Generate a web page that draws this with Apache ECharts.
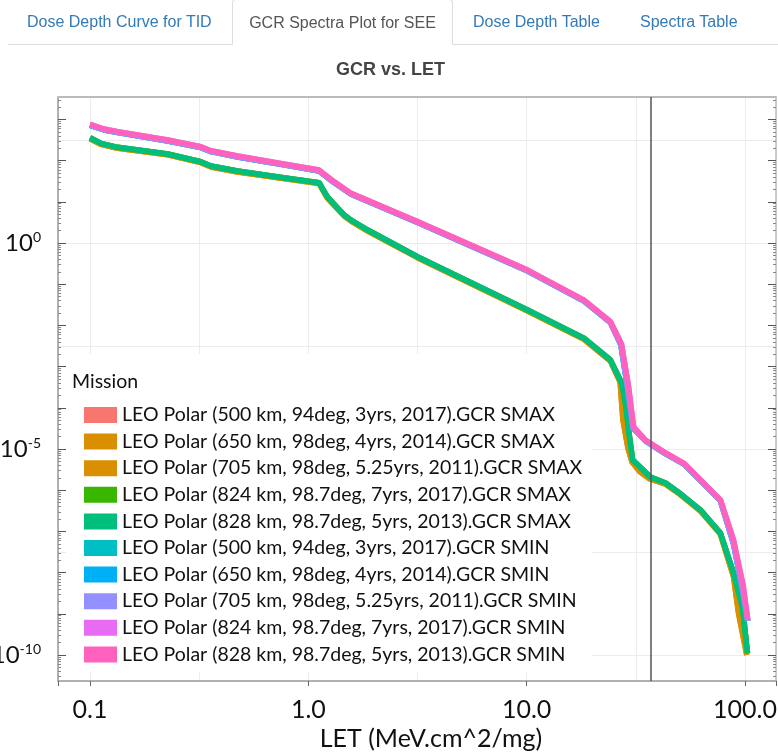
<!DOCTYPE html>
<html>
<head>
<meta charset="utf-8">
<script src="https://cdn.jsdelivr.net/npm/echarts@6/dist/echarts.min.js"></script>
<style>
html,body{margin:0;padding:0;background:#fff;}
#wrap{position:relative;width:778px;height:752px;overflow:hidden;}
#chart{position:absolute;left:0;top:0;width:778px;height:752px;}
.tabline{position:absolute;left:8px;top:44px;width:770px;height:0;border-top:1px solid #ddd;}
.tab{position:absolute;top:0;height:44px;line-height:44px;font-family:"Liberation Sans",Arial,sans-serif;font-size:16px;color:#337ab7;white-space:nowrap;}
.tab.active{color:#555;background:#fff;border:1px solid #ddd;border-bottom:1px solid #fff;border-radius:4px 4px 0 0;text-align:center;box-sizing:border-box;height:46px;}
</style>
</head>
<body>
<div id="wrap">
  <div id="chart"></div>
  <div class="tabline"></div>
  <div class="tab" style="left:27px;">Dose Depth Curve for TID</div>
  <div class="tab active" style="left:232px;width:221px;top:-1px;line-height:46px;">GCR Spectra Plot for SEE</div>
  <div class="tab" style="left:473px;">Dose Depth Table</div>
  <div class="tab" style="left:640px;">Spectra Table</div>
</div>
<script>
// ---- data ----
const seriesNames = [
  'LEO Polar (500 km, 94deg, 3yrs, 2017).GCR SMAX',
  'LEO Polar (650 km, 98deg, 4yrs, 2014).GCR SMAX',
  'LEO Polar (705 km, 98deg, 5.25yrs, 2011).GCR SMAX',
  'LEO Polar (824 km, 98.7deg, 7yrs, 2017).GCR SMAX',
  'LEO Polar (828 km, 98.7deg, 5yrs, 2013).GCR SMAX',
  'LEO Polar (500 km, 94deg, 3yrs, 2017).GCR SMIN',
  'LEO Polar (650 km, 98deg, 4yrs, 2014).GCR SMIN',
  'LEO Polar (705 km, 98deg, 5.25yrs, 2011).GCR SMIN',
  'LEO Polar (824 km, 98.7deg, 7yrs, 2017).GCR SMIN',
  'LEO Polar (828 km, 98.7deg, 5yrs, 2013).GCR SMIN'
];

// Solar max, upper copy (500 / 824 / 828 km)
const letSmaxA = [0.1,0.112,0.134,0.227,0.322,0.358,0.474,0.77,1.12,1.22,1.36,1.46,1.57,1.87,3.16,10.1,18.3,24.2,27.3,28.4,29.3,30.6,36.9,43.3,50.7,62.6,77.2,88.6,97.4,102.7];
const gcrSmaxA = [359,263,210,145,94,74,56,38.5,29.1,13.3,7.1,4.8,3.6,2.07,0.465,0.0236,4.9e-3,1.45e-3,3.9e-4,1.2e-4,2.9e-5,5.4e-6,2.1e-6,1.5e-6,8.2e-7,3.3e-7,9.1e-8,9.8e-9,1.46e-9,1.1e-10];

// Solar max, lower copy (650 / 705 km)
const letSmaxB = [0.1,0.112,0.134,0.227,0.322,0.358,0.474,0.77,1.12,1.22,1.36,1.46,1.57,1.87,3.16,10.1,18.3,24.2,26.8,27.6,29.1,30.4,33.0,36.7,43.3,50.7,62.6,77.2,88.6,93.4,101.9];
const gcrSmaxB = [340,250,200,138,89,70,53,36.5,27.6,12.5,6.7,4.5,3.4,1.95,0.44,0.0223,4.6e-3,1.36e-3,4.2e-4,5.1e-5,1.06e-5,4.8e-6,2.8e-6,1.87e-6,1.4e-6,7.7e-7,3.1e-7,8.5e-8,8.0e-9,1.05e-9,1.0e-10];

// Solar min, upper copy (824 / 828 km)
const letSminA = [0.1,0.116,0.134,0.227,0.322,0.358,0.474,0.77,1.12,1.31,1.57,3.16,10.1,18.3,24.2,27.2,29.3,30.9,35.0,43.3,52.5,62.6,77.2,88.6,98.3,103];
const gcrSminA = [760,585,503,316,217,174,129,83,59,31,16,3.3,0.22,0.041,0.0123,3.5e-3,3.2e-4,3.4e-5,1.65e-5,8.0e-6,4.5e-6,1.77e-6,5.8e-7,6.2e-8,4.5e-9,7.1e-10];

// Solar min, lower copy (500 / 650 / 705 km)
const letSminB = [0.1,0.116,0.134,0.227,0.322,0.358,0.474,0.77,1.12,1.31,1.57,3.16,10.1,18.3,24.2,27.0,29.0,30.7,35.0,43.3,52.5,62.6,77.2,88.6,97.5,103];
const gcrSminB = [720,555,478,300,206,165,122,79,56,29.3,15.3,3.13,0.209,0.039,0.0117,3.4e-3,3.0e-4,3.2e-5,1.57e-5,7.6e-6,4.3e-6,1.68e-6,5.5e-7,5.0e-8,3.8e-9,6.7e-10];

const letThreshold = 37;
const xTickLabels = ['0.1','1.0','10.0','100.0'];
const yMajorTicks = [1e-10,1e-9,1e-8,1e-7,1e-6,1e-5,1e-4,1e-3,1e-2,1e-1,1,10,100,1000];
const yLabelTicks = [1e-10,1e-5,1];

// ---- styling ----
const colors = ['#F8766D','#D98F00','#D98F00','#39B600','#00BF7D','#00BFC4','#00B0F6','#9590FF','#E76BF3','#FF62BC'];
const curveSets = [
  [letSmaxA,gcrSmaxA],[letSmaxB,gcrSmaxB],[letSmaxB,gcrSmaxB],[letSmaxA,gcrSmaxA],[letSmaxA,gcrSmaxA],
  [letSminB,gcrSminB],[letSminB,gcrSminB],[letSminB,gcrSminB],[letSminA,gcrSminA],[letSminA,gcrSminA]
];
const FONT = 'Lato, "Open Sans", sans-serif';

const X_MIN = 0.07135, X_MAX = 138.7;
const Y_MIN = 2.34e-11, Y_MAX = 3499;

// minor tick positions (2..9 x each decade) for the log axis decoration
const yMinorTicks = [];
yMajorTicks.forEach(d => { for (let m = 2; m <= 9; m++) { const v = d * m / 10; if (v > Y_MIN && v < Y_MAX) yMinorTicks.push(v); } });
yMinorTicks.push(2e3, 3e3);

function isPow10(v){ const l = Math.log10(v); return Math.abs(l - Math.round(l)) < 1e-6; }

const series = seriesNames.map((name, i) => {
  const [xs, ys] = curveSets[i];
  const s = {
    name: name,
    type: 'line',
    xAxisIndex: 0,
    yAxisIndex: 0,
    data: xs.map((x, k) => [x, ys[k]]),
    showSymbol: false,
    symbol: 'none',
    color: colors[i],
    z: 3,
    lineStyle: { width: 5.5, color: colors[i], join: 'round' },
    emphasis: { disabled: true },
    animation: false
  };
  if (i === seriesNames.length - 1) {
    s.markLine = {
      silent: true,
      symbol: ['none','none'],
      z: 10,
      label: { show: false },
      lineStyle: { color: '#555', width: 1.5, type: 'solid' },
      data: [{ xAxis: letThreshold }]
    };
  }
  return s;
});

const hiddenY = (pos, ticks, len, color) => ({
  type: 'log', logBase: 10, min: Y_MIN, max: Y_MAX, position: pos,
  axisLine: { show: false },
  axisTick: { show: true, inside: true, length: len, customValues: ticks, lineStyle: { color: color } },
  axisLabel: { show: false }, splitLine: { show: false }
});

const chart = echarts.init(document.getElementById('chart'), null, { renderer: 'canvas' });
chart.setOption({
  animation: false,
  backgroundColor: '#fff',
  title: [
    { text: 'GCR vs. LET', left: 336, top: 61, padding: 0,
      textStyle: { fontFamily: '"Liberation Sans", Arial, sans-serif', fontSize: 18, fontWeight: 'bold', color: '#444' } },
    { text: 'Mission', left: 72, top: 372, padding: 0, z: 2,
      textStyle: { fontFamily: FONT, fontSize: 19.5, fontWeight: 'normal', color: '#111' } }
  ],
  grid: { left: 58, right: 2, top: 97, bottom: 71, containLabel: false, outerBoundsMode: 'none' },
  legend: {
    orient: 'vertical',
    left: 66, top: 354,
    z: 1,
    padding: [50, 10, 6, 18],
    backgroundColor: '#fff',
    icon: 'rect',
    itemWidth: 33, itemHeight: 16,
    itemGap: 4.6,
    textStyle: { fontFamily: FONT, fontSize: 19.5, lineHeight: 22, color: '#111' },
    selectedMode: false,
    data: seriesNames
  },
  xAxis: [
    { type: 'log', logBase: 10, min: X_MIN, max: X_MAX, position: 'bottom',
      name: 'LET (MeV.cm^2/mg)', nameLocation: 'middle', nameGap: 43,
      nameTextStyle: { fontFamily: FONT, fontSize: 25, color: '#111', padding: [0,0,0,28] },
      axisLine: { show: true, onZero: false, lineStyle: { color: '#999', width: 1.5 } },
      axisTick: { show: true, inside: false, length: 5, lineStyle: { color: '#666' } },
      minorTick: { show: false },
      splitLine: { show: false },
      axisLabel: { margin: 16, fontFamily: FONT, fontSize: 25, color: '#111',
        formatter: function (v) { if (!isPow10(v)) return ''; const e = Math.round(Math.log10(v)); return xTickLabels[e + 1] || ''; } }
    },
    { type: 'log', logBase: Math.sqrt(10), min: X_MIN, max: X_MAX, position: 'bottom',
      axisLine: { show: false }, axisTick: { show: false }, axisLabel: { show: false },
      splitLine: { show: true, lineStyle: { color: '#ececec', width: 1 } } },
    { type: 'log', logBase: 10, min: X_MIN, max: X_MAX, position: 'top',
      axisLine: { show: true, onZero: false, lineStyle: { color: '#bbb', width: 2 } },
      axisTick: { show: false }, axisLabel: { show: false }, splitLine: { show: false } }
  ],
  yAxis: [
    { type: 'log', logBase: 10, min: Y_MIN, max: Y_MAX, position: 'left',
      axisLine: { show: true, onZero: false, lineStyle: { color: '#999', width: 1.5 } },
      axisTick: { show: true, inside: true, length: 8, customValues: yMajorTicks, lineStyle: { color: '#555' } },
      splitLine: { show: false },
      axisLabel: { margin: 17, customValues: yLabelTicks, fontFamily: FONT, fontSize: 24, color: '#111', lineHeight: 26,
        formatter: function (v) { const e = Math.round(Math.log10(v)); return '10{sup|' + e + '}'; },
        rich: { sup: { fontFamily: FONT, fontSize: 14, lineHeight: 14, verticalAlign: 'top', color: '#111' } } }
    },
    { type: 'log', logBase: Math.pow(10, 2.5), min: Y_MIN, max: Y_MAX, position: 'left',
      axisLine: { show: false }, axisTick: { show: false }, axisLabel: { show: false },
      splitLine: { show: true, lineStyle: { color: '#ececec', width: 1 } } },
    { type: 'log', logBase: 10, min: Y_MIN, max: Y_MAX, position: 'right',
      axisLine: { show: true, onZero: false, lineStyle: { color: '#bbb', width: 1.5 } },
      axisTick: { show: true, inside: true, length: 8, customValues: yMajorTicks, lineStyle: { color: '#555' } },
      axisLabel: { show: false }, splitLine: { show: false } },
    hiddenY('left', yMinorTicks, 3, '#888'),
    hiddenY('right', yMinorTicks, 3, '#888')
  ],
  series: series
});
</script>
</body>
</html>
